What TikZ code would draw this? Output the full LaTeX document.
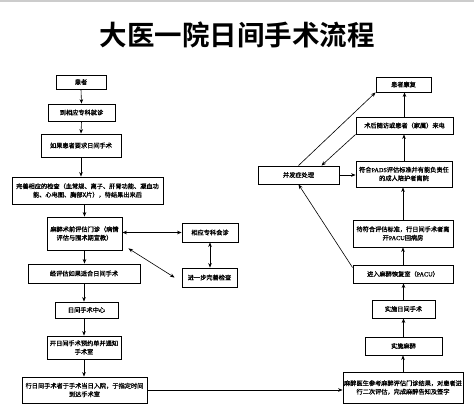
\documentclass[tikz,border=0pt]{standalone}
\usepackage{fontspec}
\usetikzlibrary{arrows.meta}
\newfontfamily\cjk{Noto Sans CJK SC}[BoldFont={Noto Sans CJK SC Bold}]
\newfontfamily\cjkbox{Noto Sans CJK SC}[FakeBold=1.2]
\newfontfamily\lat{Liberation Serif}[FakeBold=1.2]
\begin{document}
\begin{tikzpicture}[x=1pt,y=-1pt,
  box/.style={draw, line width=0.9pt, inner sep=0pt, align=center, font=\cjkbox\fontsize{6.2}{8.5}\selectfont},
  arr/.style={-{Stealth[length=4.5pt,width=3.6pt]}, line width=0.6pt},
  darr/.style={{Stealth[length=4.5pt,width=3.6pt]}-{Stealth[length=4.5pt,width=3.6pt]}, line width=0.6pt}]
\useasboundingbox (0,0) rectangle (474,414);
\fill[gray!40] (0,0) rectangle (474,2.5);
\node[font=\cjk\bfseries\fontsize{27.5}{30}\selectfont] (title) at (237,35) {大医一院日间手术流程};
% left column
\node[box, minimum width=50pt, minimum height=14pt] (A) at (81,82) {患者};
\node[box, minimum width=67pt, minimum height=17pt] (B) at (81.5,112.5) {到相应专科就诊};
\node[box, minimum width=80pt, minimum height=23pt] (C) at (81,145.5) {如果患者要求日间手术};
\node[box, minimum width=151pt, minimum height=27pt] (D) at (87.5,190.5) {完善相应的检查（血常规、离子、肝肾功能、凝血功\\能、心电图、胸部X片），待结果出来后};
\node[box, minimum width=75pt, minimum height=33pt] (E) at (84.5,233.5) {麻醉术前评估门诊（病情\\评估与围术期宣教）};
\node[box, minimum width=112pt, minimum height=19pt] (F) at (84,273.5) {经评估如果适合日间手术};
\node[box, minimum width=56pt, minimum height=19pt] (G) at (210,232.5) {相应专科会诊};
\node[box, minimum width=55pt, minimum height=19pt] (H) at (209.5,277.5) {进一步完善检查};
\node[box, minimum width=63pt, minimum height=16pt] (I) at (86.5,310) {日间手术中心};
\node[box, minimum width=74pt, minimum height=23pt] (J) at (84,347.5) {开日间手术预约单并通知\\手术室};
\node[box, minimum width=125pt, minimum height=26pt] (K) at (84.5,390) {行日间手术者于手术当日入院，于指定时间\\到达手术室};
% right column
\node[box, minimum width=55pt, minimum height=15pt] (L) at (403.5,84.5) {患者康复};
\node[box, minimum width=97pt, minimum height=17pt] (M) at (404.5,125.5) {术后随访或患者（家属）来电};
\node[box, minimum width=81pt, minimum height=18pt] (N) at (298.5,175) {并发症处理};
\node[box, minimum width=96pt, minimum height=26pt] (O) at (404,174) {符合{\lat PADS}评估标准并有能负责任\\的成人陪护者离院};
\node[box, minimum width=100pt, minimum height=27pt] (P) at (403,233.5) {待符合评估标准，行日间手术者离\\开{\lat PACU}回病房};
\node[box, minimum width=100pt, minimum height=18pt] (Q) at (403,274) {进入麻醉恢复室（{\lat PACU}）};
\node[box, minimum width=63pt, minimum height=18pt] (R) at (403.5,309) {实施日间手术};
\node[box, minimum width=77pt, minimum height=18pt] (S) at (403.5,346) {实施麻醉};
\node[box, minimum width=120pt, minimum height=31pt] (T) at (403,387.5) {麻醉医生参考麻醉评估门诊结果，对患者进\\行二次评估，完成麻醉告知及签字};
% left connectors
\draw[arr] (A.south) -- (B.north);
\draw[arr] (B.south) -- (C.north);
\draw[arr] (C.south) -- (C.south |- D.north);
\draw[arr] (E.north |- D.south) -- (E.north);
\draw[arr] (E.south) -- (E.south |- F.north);
\draw[arr] (F.south) -- (F.south |- I.north);
\draw[arr] (J.north |- I.south) -- (J.north);
\draw[arr] (J.south) -- (J.south |- K.north);
\draw[darr] (G.west -| E.east) -- (G.west);
\draw[darr] (G.south) -- (G.south |- H.north);
\draw[darr] ([shift={(6,-2)}]E.south east) -- ([shift={(-7,0)}]H.west);
\draw[arr] (K.east) -- (K.east -| T.west);
% right connectors
\draw[arr] (T.north) -- (T.north |- S.south);
\draw[arr] (S.north) -- (S.north |- R.south);
\draw[arr] (R.north) -- (R.north |- Q.south);
\draw[arr] (Q.north) -- (Q.north |- P.south);
\draw[arr] (P.north) -- (P.north |- O.south);
\draw[arr] (O.north) -- (O.north |- M.south);
\draw[arr] (M.north) -- (M.north |- L.south);
\draw[arr] (N.east) -- (N.east -| O.west);
\draw[arr] (N.north) -- (L.south west);
\draw[arr] (M.south west) -- ([xshift=23pt]N.north);
\draw[arr] ([shift={(0,3)}]Q.north west) -- (N.south);
\end{tikzpicture}
\end{document}
